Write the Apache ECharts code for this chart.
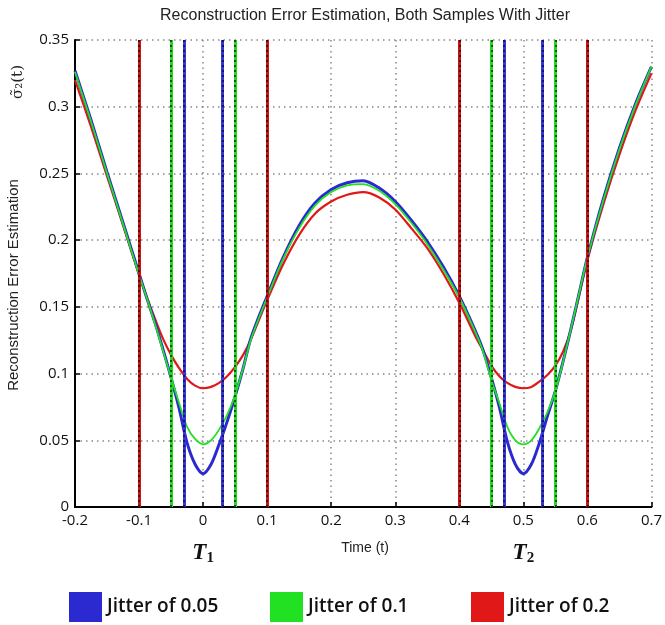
<!DOCTYPE html>
<html>
<head>
<meta charset="utf-8">
<script src="https://cdn.jsdelivr.net/npm/echarts@6/dist/echarts.min.js"></script>
<style>
  html, body { margin: 0; padding: 0; background: #fff; }
  #main { width: 665px; height: 625px; }
</style>
</head>
<body>
<div id="main"></div>
<script>
// time samples (t)
const xs = [-0.2, -0.175, -0.15, -0.125, -0.1, -0.0875, -0.075, -0.0625, -0.05, -0.0375, -0.025, -0.0125, 0,
  0.0125, 0.025, 0.0375, 0.05, 0.0625, 0.075,
  0.1, 0.125, 0.15, 0.175, 0.2, 0.225, 0.25, 0.275, 0.3, 0.325, 0.35, 0.375, 0.4, 0.425,
  0.4375, 0.45, 0.4625, 0.475, 0.4875, 0.5,
  0.5125, 0.525, 0.5375, 0.55, 0.5625, 0.575, 0.5875, 0.6,
  0.625, 0.65, 0.675, 0.7]

const jitter005 = [0.327, 0.290, 0.251, 0.213, 0.175, 0.156, 0.138, 0.118, 0.097, 0.074, 0.048, 0.032, 0.025,
  0.032, 0.047, 0.064, 0.083, 0.104, 0.127,
  0.158, 0.187, 0.211, 0.228, 0.238, 0.243, 0.2445, 0.239, 0.229, 0.215, 0.199, 0.180, 0.158, 0.132,
  0.117, 0.097, 0.075, 0.049, 0.032, 0.025,
  0.032, 0.048, 0.068, 0.087, 0.110, 0.135, 0.161, 0.187,
  0.231, 0.269, 0.302, 0.330]

const jitter01 = [0.326, 0.289, 0.250, 0.212, 0.174, 0.156, 0.137, 0.117, 0.097, 0.078, 0.060, 0.051, 0.047,
  0.050, 0.058, 0.069, 0.084, 0.104, 0.126,
  0.157, 0.186, 0.209, 0.226, 0.236, 0.241, 0.242, 0.237, 0.227, 0.213, 0.197, 0.178, 0.157, 0.131,
  0.116, 0.095, 0.078, 0.060, 0.050, 0.047,
  0.050, 0.059, 0.071, 0.087, 0.110, 0.135, 0.161, 0.187,
  0.230, 0.268, 0.301, 0.330]

const jitter02 = [0.320, 0.285, 0.248, 0.211, 0.174, 0.157, 0.141, 0.126, 0.114, 0.104, 0.096, 0.091, 0.089,
  0.090, 0.093, 0.098, 0.105, 0.114, 0.126,
  0.155, 0.182, 0.204, 0.220, 0.229, 0.234, 0.236, 0.232, 0.223, 0.209, 0.194, 0.175, 0.153, 0.128,
  0.117, 0.106, 0.098, 0.093, 0.090, 0.089,
  0.090, 0.094, 0.099, 0.106, 0.117, 0.134, 0.159, 0.185,
  0.227, 0.264, 0.297, 0.325]

// vertical jitter bounds around T1 = 0 and T2 = 0.5
const samples = [0, 0.5]
const blueBounds = [-0.025, 0.025, 0.475, 0.525]
const greenBounds = [-0.05, 0.05, 0.45, 0.55]
const redBounds = [-0.1, 0.1, 0.4, 0.6]

const xTickLabels = ['-0.2', '-0.1', '0', '0.1', '0.2', '0.3', '0.4', '0.5', '0.6', '0.7']
const yTickLabels = ['0', '0.05', '0.1', '0.15', '0.2', '0.25', '0.3', '0.35']

const names = ['Jitter of 0.05', 'Jitter of 0.1', 'Jitter of 0.2']
const colors = ['#2a2ad0', '#22e022', '#e01818']
const boundColors = ['#3535d8', '#22d822', '#c81414']

const pairs = ys => xs.map((x, i) => [x, ys[i]])

const bounds = (list, color) => {
  const items = []
  list.forEach(x => {
    items.push({ xAxis: x, lineStyle: { color: color, width: 3, type: 'solid' } })
    items.push({ xAxis: x, lineStyle: { color: '#000', width: 1.6, type: [2, 3], opacity: 0.75 } })
  })
  return {
    silent: true,
    symbol: ['none', 'none'],
    label: { show: false },
    emphasis: { disabled: true },
    data: items
  }
}

const chart = echarts.init(document.getElementById('main'))

const font = 'Open Sans'
const plain = 'Liberation Sans'

const option = {
  animation: false,
  backgroundColor: '#fff',
  grid: { left: 75, right: 10, top: 40, bottom: 118 },
  xAxis: {
    type: 'value',
    min: -0.2,
    max: 0.7,
    interval: 0.1,
    axisLine: { lineStyle: { color: '#000', width: 2 } },
    axisTick: { inside: true, length: 5, lineStyle: { color: '#000', width: 1.5 } },
    axisLabel: {
      color: '#111',
      fontSize: 15,
      fontFamily: font,
      margin: 6,
      formatter: (v, i) => xTickLabels[i]
    },
    splitLine: { show: true, lineStyle: { color: '#888', width: 1.5, type: [1.5, 4] } }
  },
  yAxis: {
    type: 'value',
    min: 0,
    max: 0.35,
    interval: 0.05,
    axisLine: { show: true, onZero: false, lineStyle: { color: '#000', width: 2 } },
    axisTick: { show: true, inside: true, length: 5, lineStyle: { color: '#000', width: 1.5 } },
    axisLabel: {
      color: '#111',
      fontSize: 15,
      fontFamily: font,
      margin: 6,
      formatter: (v, i) => yTickLabels[i]
    },
    splitLine: { show: true, lineStyle: { color: '#888', width: 1.5, type: [1.5, 4] } }
  },
  legend: names.map((n, i) => ({
    data: [n],
    left: [64, 265, 466][i],
    top: 587,
    icon: 'rect',
    itemWidth: 33,
    itemHeight: 30,
    itemGap: 8,
    selectedMode: false,
    textStyle: { fontSize: 19, fontFamily: font, fontWeight: 600, color: '#111' }
  })),
  series: [
    {
      name: names[2], type: 'line', data: pairs(jitter02), showSymbol: false, smooth: 0.3,
      lineStyle: { color: colors[2], width: 2.2 }, itemStyle: { color: colors[2] },
      markLine: bounds(redBounds, boundColors[2]), z: 2
    },
    {
      name: names[0], type: 'line', data: pairs(jitter005), showSymbol: false, smooth: 0.3,
      lineStyle: { color: colors[0], width: 3 }, itemStyle: { color: colors[0] },
      markLine: bounds(blueBounds, boundColors[0]), z: 3
    },
    {
      name: names[1], type: 'line', data: pairs(jitter01), showSymbol: false, smooth: 0.3,
      lineStyle: { color: colors[1], width: 1.8 }, itemStyle: { color: colors[1] },
      markLine: bounds(greenBounds, boundColors[1]), z: 4
    }
  ],
  graphic: [
    {
      type: 'text', x: 365, y: 16,
      style: { text: 'Reconstruction Error Estimation, Both Samples With Jitter', fontSize: 16, fontFamily: plain, fill: '#222', align: 'center', verticalAlign: 'middle' }
    },
    {
      type: 'text', x: 14, y: 285, rotation: Math.PI / 2,
      style: { text: 'Reconstruction Error Estimation', fontSize: 15, fontFamily: plain, fill: '#222', align: 'center', verticalAlign: 'middle' }
    },
    {
      type: 'text', x: 18, y: 82, rotation: Math.PI / 2,
      style: { text: 'σ\u0303\u2082(t)', fontSize: 15, fontFamily: 'DejaVu Serif', fill: '#222', align: 'center', verticalAlign: 'middle' }
    },
    {
      type: 'text', x: 365, y: 548,
      style: { text: 'Time (t)', fontSize: 14, fontFamily: plain, fill: '#222', align: 'center', verticalAlign: 'middle' }
    }
  ]
}

chart.setOption(option)

// T1 / T2 labels under the sample instants
const sampleLabels = samples.map((s, i) => {
  const px = chart.convertToPixel({ xAxisIndex: 0 }, s)
  return {
    type: 'text', x: px, y: 553,
    style: {
      text: '{t|T}{s|' + (i + 1) + '}',
      align: 'center', verticalAlign: 'middle',
      rich: {
        t: { fontSize: 23, fontStyle: 'italic', fontWeight: 'bold', fontFamily: 'Liberation Serif', fill: '#111' },
        s: { fontSize: 15, fontWeight: 'bold', fontFamily: 'Liberation Serif', fill: '#111', padding: [10, 0, 0, 0] }
      }
    }
  }
})
chart.setOption({ graphic: option.graphic.concat(sampleLabels) })
</script>
</body>
</html>
